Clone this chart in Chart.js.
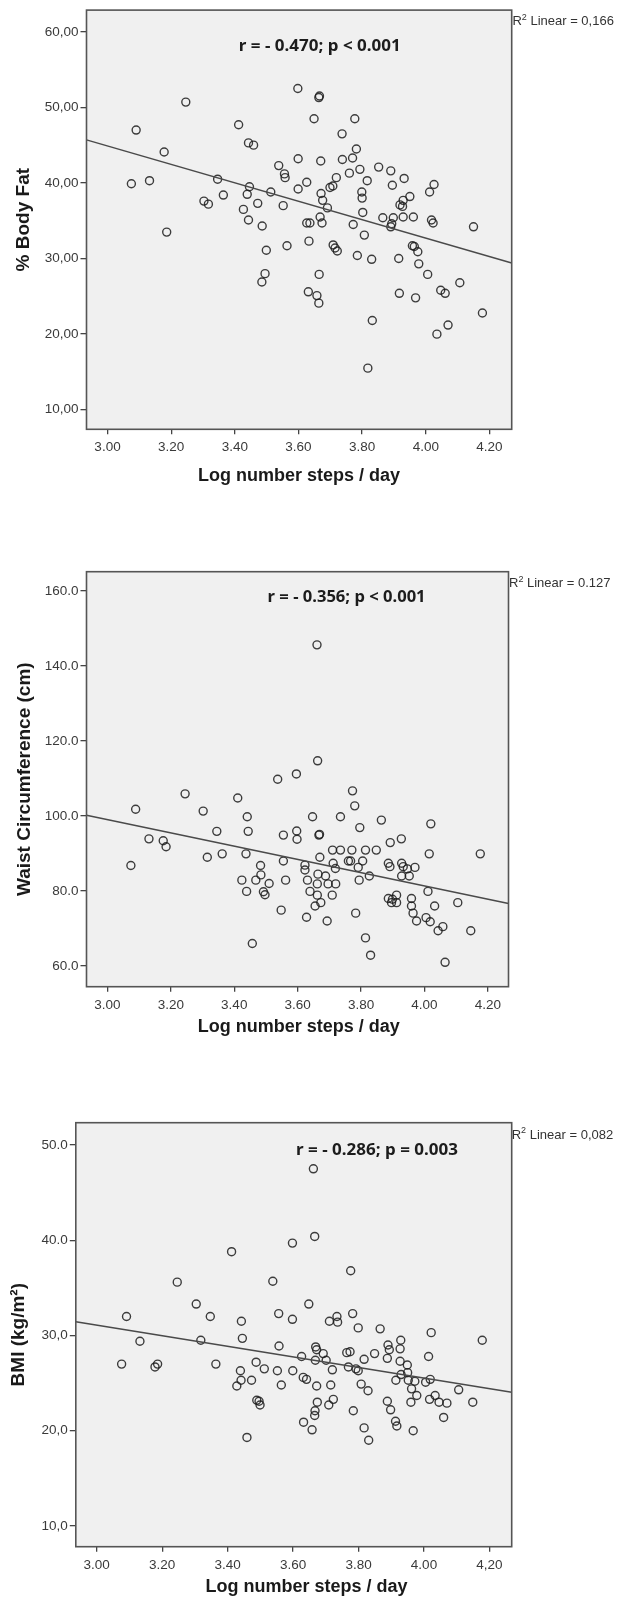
<!DOCTYPE html>
<html>
<head>
<meta charset="utf-8">
<script src="https://cdn.jsdelivr.net/npm/chart.js@4.4.1/dist/chart.umd.min.js"></script>
<style>
  html, body { margin: 0; padding: 0; background: #ffffff; }
  #page { position: relative; width: 619px; height: 1600px; }
  canvas { position: absolute; left: 0; }
</style>
</head>
<body>
<div id="page">
  <canvas id="fatChart" width="619" height="500" style="top:0px"></canvas>
  <canvas id="waistChart" width="619" height="560" style="top:500px"></canvas>
  <canvas id="bmiChart" width="619" height="540" style="top:1060px"></canvas>
</div>
<script>
// log10 steps/day (x) against each outcome (y)
const fatSteps = [
  3.598, 3.664, 3.666, 3.246, 3.090, 3.412, 3.649, 3.777, 3.178, 3.443,
  3.459, 3.737, 3.782, 3.075, 3.132, 3.346, 3.538, 3.556, 3.558, 3.599,
  3.670, 3.626, 3.599, 3.738, 3.770, 3.760, 3.793, 3.816, 3.852, 3.890,
  3.895, 3.932, 3.719, 3.708, 3.699, 4.012, 4.026, 3.446, 3.364, 3.439,
  3.513, 3.671, 3.676, 3.799, 3.800, 3.950, 3.929, 3.919, 3.927, 3.303,
  3.317, 3.472, 3.552, 3.427, 3.443, 3.486, 3.691, 3.668, 3.674, 3.626,
  3.636, 3.772, 3.802, 3.865, 3.898, 3.929, 3.961, 3.893, 3.890, 3.186,
  4.018, 4.023, 3.807, 3.499, 3.564, 3.633, 3.709, 3.715, 3.722, 3.785,
  3.830, 3.915, 3.958, 3.964, 3.975, 3.978, 4.006, 3.495, 3.485, 3.665,
  3.631, 3.658, 3.664, 3.917, 3.968, 3.832, 3.818, 4.047, 4.061, 4.035,
  4.070, 4.107, 4.150, 4.178,
];
const fatPct = [
  52.5, 51.3, 51.5, 50.7, 47.0, 47.7, 48.5, 48.5, 44.1, 45.3,
  45.0, 46.5, 44.5, 39.9, 40.3, 40.5, 42.3, 41.2, 40.7, 43.2,
  42.9, 40.1, 39.2, 43.1, 43.3, 41.3, 41.8, 40.3, 42.1, 41.6,
  39.7, 40.6, 40.7, 39.6, 39.4, 38.8, 39.8, 39.5, 38.4, 38.5,
  38.8, 38.6, 37.7, 38.8, 38.0, 38.2, 37.7, 37.1, 36.9, 37.6,
  37.2, 37.3, 37.0, 36.5, 35.1, 34.3, 36.7, 35.5, 34.7, 34.7,
  34.7, 34.5, 36.1, 35.4, 35.4, 35.5, 35.5, 34.6, 34.2, 33.5,
  35.1, 34.7, 33.1, 31.1, 31.7, 32.3, 31.8, 31.4, 31.0, 30.4,
  29.9, 30.0, 31.7, 31.6, 30.9, 29.3, 27.9, 28.0, 26.9, 27.9,
  25.6, 25.1, 24.1, 25.4, 24.8, 21.8, 15.5, 25.8, 25.4, 20.0,
  21.2, 26.8, 34.2, 22.8,
];
const fatFitX = [2.934, 4.27];
const fatFitY = [45.7, 29.4];

const waistSteps = [
  3.661, 3.663, 3.596, 3.537, 3.773, 3.780, 3.245, 3.411, 3.089, 3.302,
  3.441, 3.647, 3.735, 3.864, 3.796, 4.020, 3.131, 3.176, 3.185, 3.345,
  3.444, 3.555, 3.597, 3.598, 3.667, 3.669, 3.927, 3.892, 3.710, 3.735,
  3.771, 3.814, 3.848, 4.015, 3.074, 3.315, 3.362, 3.437, 3.483, 3.555,
  3.670, 3.623, 3.712, 3.760, 3.767, 3.805, 3.791, 3.886, 3.928, 3.891,
  3.933, 3.970, 3.623, 3.719, 3.826, 3.928, 3.952, 3.424, 3.468, 3.484,
  3.510, 3.439, 3.492, 3.497, 3.562, 3.631, 3.664, 3.688, 3.662, 3.696,
  3.720, 3.794, 3.639, 3.662, 3.709, 3.673, 3.655, 3.548, 3.628, 3.693,
  3.783, 3.886, 3.912, 3.896, 3.912, 3.899, 3.959, 3.959, 3.964, 3.975,
  4.005, 4.011, 3.457, 3.814, 3.830, 4.018, 4.032, 4.043, 4.058, 4.065,
  4.105, 4.146, 4.176, 3.946,
];
const waistCm = [
  145.6, 114.7, 111.2, 109.8, 106.7, 102.7, 105.9, 104.8, 101.8, 101.3,
  99.8, 99.8, 99.8, 98.9, 96.9, 97.9, 93.9, 93.4, 91.8, 95.9,
  95.9, 94.9, 96.0, 93.8, 94.9, 95.1, 93.9, 92.9, 90.9, 90.9,
  90.9, 90.9, 90.9, 89.9, 86.8, 89.0, 89.9, 89.9, 86.8, 88.0,
  89.0, 86.9, 87.4, 88.0, 88.0, 88.0, 86.3, 87.4, 87.4, 86.5,
  86.5, 86.3, 85.6, 86.0, 84.0, 84.0, 84.0, 82.9, 82.9, 84.3,
  82.0, 79.9, 79.8, 79.0, 82.9, 82.9, 84.5, 84.0, 81.9, 81.9,
  81.9, 82.9, 79.9, 78.9, 78.9, 76.9, 76.0, 74.9, 73.0, 72.0,
  74.1, 78.0, 78.9, 76.9, 76.9, 77.8, 78.0, 76.0, 74.1, 72.0,
  72.9, 79.9, 66.0, 67.5, 62.9, 71.8, 76.0, 69.4, 70.5, 61.0,
  76.9, 69.4, 89.9, 85.9,
];
const waistFitX = [2.934, 4.265];
const waistFitY = [100.2, 76.7];

const bmiSteps = [
  3.662, 3.666, 3.598, 3.412, 3.776, 3.246, 3.538, 3.304, 3.648, 3.091,
  3.347, 3.442, 3.556, 3.598, 3.711, 3.734, 3.736, 3.782, 3.799, 3.866,
  4.022, 3.132, 3.318, 3.445, 3.557, 3.669, 3.672, 3.692, 3.701, 3.626,
  3.668, 3.764, 3.774, 3.849, 3.817, 3.769, 3.792, 3.799, 3.890, 3.894,
  3.929, 3.927, 3.888, 3.927, 3.949, 4.014, 3.076, 3.178, 3.186, 3.364,
  3.487, 3.512, 3.552, 3.599, 3.439, 3.441, 3.428, 3.473, 3.631, 3.641,
  3.720, 3.715, 3.672, 3.564, 3.808, 3.829, 3.914, 3.952, 3.972, 3.962,
  3.978, 4.005, 3.930, 3.950, 3.489, 3.496, 3.499, 3.674, 3.667, 3.666,
  3.723, 3.709, 3.784, 3.888, 3.898, 3.960, 3.913, 3.917, 3.632, 3.658,
  3.817, 3.967, 3.831, 3.459, 4.178, 4.106, 4.149, 4.070, 4.046, 4.034,
  4.060, 4.017, 4.019,
];
const bmiVals = [
  47.5, 40.4, 39.7, 38.8, 36.8, 35.6, 35.7, 33.3, 33.3, 32.0,
  32.0, 31.5, 32.3, 31.7, 31.5, 32.0, 31.4, 32.3, 30.8, 30.7,
  30.3, 29.4, 29.5, 29.7, 28.9, 28.8, 28.5, 28.1, 27.4, 27.8,
  27.4, 28.2, 28.3, 28.1, 27.5, 26.7, 26.5, 26.3, 29.0, 28.5,
  29.5, 28.6, 27.6, 27.3, 26.9, 27.8, 27.0, 26.7, 27.0, 27.0,
  27.2, 26.5, 26.3, 26.3, 26.3, 25.3, 24.7, 25.3, 25.6, 25.4,
  26.4, 24.8, 24.7, 24.8, 24.9, 24.2, 25.3, 25.3, 25.2, 24.4,
  23.7, 25.1, 25.9, 26.1, 23.2, 23.1, 22.7, 23.0, 22.1, 21.6,
  23.3, 22.7, 22.1, 23.1, 22.2, 23.0, 21.0, 20.5, 20.9, 20.1,
  20.3, 20.0, 19.0, 19.3, 29.5, 24.3, 23.0, 22.9, 23.0, 23.7,
  21.4, 23.3, 25.4,
];
const bmiFitX = [2.936, 4.268];
const bmiFitY = [31.44, 24.05];

// tick values and the labels SPSS printed for them
const stepTicks = [3.0, 3.2, 3.4, 3.6, 3.8, 4.0, 4.2];
const stepLabels = ["3.00", "3.20", "3.40", "3.60", "3.80", "4.00", "4.20"];
const stepLabelsBmi = ["3.00", "3.20", "3.40", "3.60", "3.80", "4.00", "4,20"];
const fatTicks = [10, 20, 30, 40, 50, 60];
const fatLabels = ["10,00", "20,00", "30,00", "40,00", "50,00", "60,00"];
const waistTicks = [60, 80, 100, 120, 140, 160];
const waistLabels = ["60.0", "80.0", "100.0", "120.0", "140.0", "160.0"];
const bmiTicks = [10, 20, 30, 40, 50];
const bmiLabels = ["10,0", "20,0", "30,0", "40.0", "50.0"];

const FONT = "'Liberation Sans', Arial, sans-serif";
const W = 619;

// grey SPSS panel, box frame, x title, correlation note and R² label
const spssFrame = {
  id: "spssFrame",
  beforeDraw(chart) {
    const { ctx, chartArea: a } = chart;
    ctx.save();
    ctx.fillStyle = "#f0f0f0";
    ctx.fillRect(a.left, a.top, a.right - a.left, a.bottom - a.top);
    ctx.restore();
  },
  afterDraw(chart) {
    const { ctx, chartArea: a } = chart;
    const o = chart.options.plugins.spssFrame;
    ctx.save();
    ctx.strokeStyle = "#555555";
    ctx.lineWidth = 1.6;
    ctx.strokeRect(a.left, a.top, a.right - a.left, a.bottom - a.top);
    ctx.restore();

    // x-axis title (SPSS does not centre it exactly on the panel)
    ctx.save();
    ctx.font = "bold 18px " + FONT;
    ctx.fillStyle = "#1a1a1a";
    ctx.textAlign = "center";
    ctx.textBaseline = "middle";
    ctx.fillText(o.xTitle, o.xTitleX, o.xTitleY);
    ctx.restore();

    ctx.save();
    ctx.font = "bold 16px 'Noto Sans', sans-serif";
    ctx.fillStyle = "#1c1c1c";
    ctx.textAlign = "center";
    ctx.textBaseline = "middle";
    const w = ctx.measureText(o.note).width;
    ctx.translate(o.noteX, o.noteY);
    ctx.scale(o.noteW / w, 1);
    ctx.fillText(o.note, 0, 0);
    ctx.restore();

    ctx.save();
    ctx.fillStyle = "#333333";
    ctx.textAlign = "left";
    ctx.textBaseline = "middle";
    let x = o.r2X;
    ctx.font = "13px " + FONT;
    ctx.fillText("R", x, o.r2Y);
    x += ctx.measureText("R").width;
    ctx.font = "9px " + FONT;
    ctx.fillText("2", x, o.r2Y - 4);
    x += ctx.measureText("2").width;
    ctx.font = "13px " + FONT;
    ctx.fillText(" Linear = " + o.r2, x, o.r2Y);
    ctx.restore();
  },
};

function zip(xs, ys) {
  return xs.map((x, i) => ({ x: x, y: ys[i] }));
}

function buildChart(id, s) {
  const tickFont = { family: FONT, size: 13.5 };
  const titleFont = { family: FONT, size: 19, weight: "bold" };
  return new Chart(document.getElementById(id), {
    type: "scatter",
    data: {
      datasets: [
        {
          type: "line",
          data: zip(s.fitX, s.fitY),
          borderColor: "#4a4a4a",
          borderWidth: 1.5,
          pointRadius: 0,
          fill: false,
          order: 0,
        },
        {
          data: zip(s.xs, s.ys),
          pointStyle: "circle",
          pointRadius: 4,
          borderWidth: 1.4,
          borderColor: "rgba(28, 28, 28, 0.85)",
          backgroundColor: "rgba(0, 0, 0, 0)",
          order: 1,
        },
      ],
    },
    options: {
      responsive: false,
      animation: false,
      devicePixelRatio: 1,
      layout: {
        padding: { left: 0, top: s.area.top, right: W - s.area.right, bottom: s.padBottom },
      },
      plugins: {
        legend: { display: false },
        tooltip: { enabled: false },
        spssFrame: s.notes,
      },
      scales: {
        x: {
          type: "linear",
          min: s.xMin,
          max: s.xMax,
          afterFit: (sc) => { sc.height = s.xAxisH; },
          afterBuildTicks: (sc) => { sc.ticks = stepTicks.map((v) => ({ value: v })); },
          ticks: {
            callback: (v, i) => s.xLabels[i],
            font: tickFont,
            color: "#3a3a3a",
            padding: 5,
            autoSkip: false,
            maxRotation: 0,
          },
          grid: { drawOnChartArea: false, drawTicks: true, tickLength: 5, color: "#444444", lineWidth: 1.3 },
          border: { display: false },
        },
        y: {
          type: "linear",
          min: s.yMin,
          max: s.yMax,
          afterFit: (sc) => { sc.width = s.area.left; },
          afterBuildTicks: (sc) => { sc.ticks = s.yTicks.map((v) => ({ value: v })); },
          ticks: {
            callback: (v, i) => s.yLabels[i],
            font: tickFont,
            color: "#3a3a3a",
            padding: 2,
          },
          grid: { drawOnChartArea: false, drawTicks: true, tickLength: 6, color: "#444444", lineWidth: 1.3 },
          border: { display: false },
          title: {
            display: true,
            text: s.yTitle,
            font: titleFont,
            color: "#1a1a1a",
            padding: { top: s.yTitlePad, bottom: 0 },
          },
        },
      },
    },
    plugins: [spssFrame],
  });
}

document.addEventListener("DOMContentLoaded", function () {
  const xTitle = "Log number steps / day";

  buildChart("fatChart", {
    xs: fatSteps, ys: fatPct, fitX: fatFitX, fitY: fatFitY,
    xMin: 2.934, xMax: 4.27, yMin: 7.41, yMax: 62.87,
    xLabels: stepLabels, yTicks: fatTicks, yLabels: fatLabels,
    yTitle: "% Body Fat",
    area: { left: 86.5, top: 10, right: 511.7 },
    xAxisH: 60, padBottom: 10.7, yTitlePad: 12.6,
    notes: {
      note: "r = - 0.470; p < 0.001", noteX: 319.8, noteY: 46.7, noteW: 162,
      r2: "0,166", r2X: 512.4, r2Y: 21.7,
      xTitle: xTitle, xTitleX: 299, xTitleY: 476,
    },
  });

  buildChart("waistChart", {
    xs: waistSteps, ys: waistCm, fitX: waistFitX, fitY: waistFitY,
    xMin: 2.934, xMax: 4.265, yMin: 54.5, yMax: 165.1,
    xLabels: stepLabels, yTicks: waistTicks, yLabels: waistLabels,
    yTitle: "Waist Circumference (cm)",
    area: { left: 86.5, top: 71.7, right: 508.5 },
    xAxisH: 60, padBottom: 13.3, yTitlePad: 13.3,
    notes: {
      note: "r = - 0.356; p < 0.001", noteX: 346.6, noteY: 97.3, noteW: 158,
      r2: "0.127", r2X: 509, r2Y: 83.3,
      xTitle: xTitle, xTitleX: 298.7, xTitleY: 526.7,
    },
  });

  buildChart("bmiChart", {
    xs: bmiSteps, ys: bmiVals, fitX: bmiFitX, fitY: bmiFitY,
    xMin: 2.936, xMax: 4.268, yMin: 7.83, yMax: 52.34,
    xLabels: stepLabelsBmi, yTicks: bmiTicks, yLabels: bmiLabels,
    yTitle: "BMI (kg/m²)",
    area: { left: 75.8, top: 62.7, right: 511.7 },
    xAxisH: 52, padBottom: 1.3, yTitlePad: 7.6,
    notes: {
      note: "r = - 0.286; p = 0.003", noteX: 377, noteY: 90, noteW: 162,
      r2: "0,082", r2X: 511.7, r2Y: 75,
      xTitle: xTitle, xTitleX: 306.6, xTitleY: 527.3,
    },
  });
});
</script>
</body>
</html>
